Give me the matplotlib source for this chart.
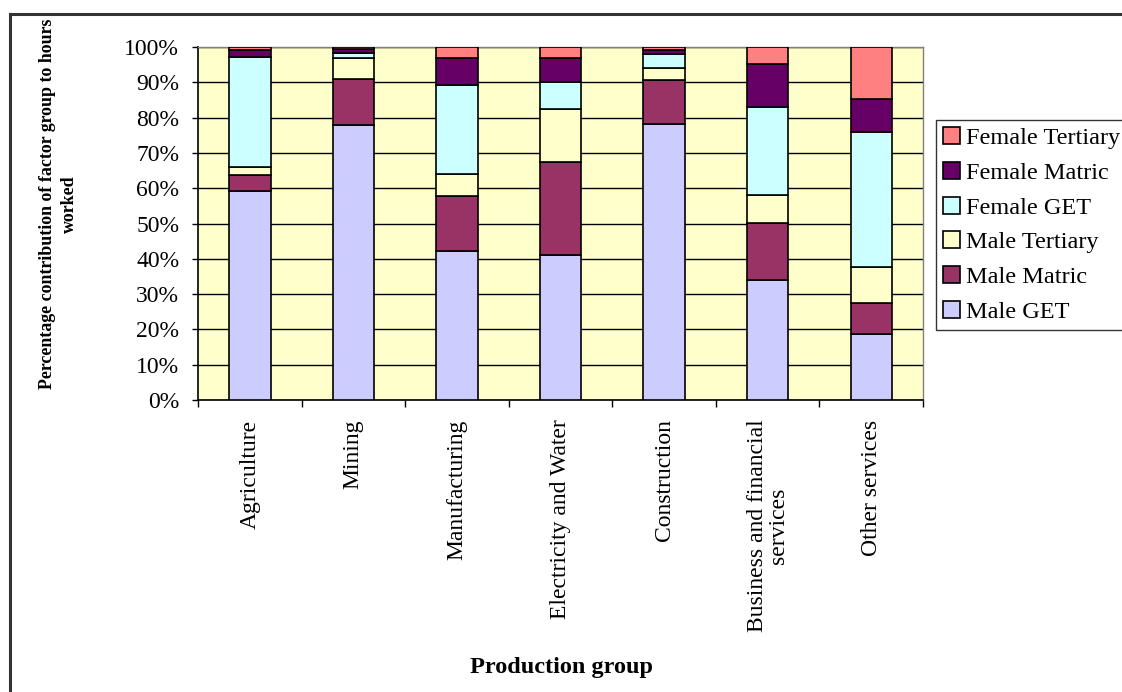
import matplotlib
matplotlib.use("Agg")
import matplotlib.pyplot as plt
from matplotlib.lines import Line2D
import numpy as np

plt.rcParams["font.family"] = ["Liberation Serif", "DejaVu Serif"]

categories = ["Agriculture", "Mining", "Manufacturing", "Electricity and Water",
              "Construction", "Business and financial\nservices", "Other services"]

# Share of hours worked (%) by factor group, stacked bottom to top
male_get = [59.3, 77.9, 42.3, 41.1, 78.2, 34.0, 18.7]
male_matric = [4.4, 13.0, 15.5, 26.2, 12.5, 16.2, 8.9]
male_tertiary = [2.3, 6.0, 6.2, 15.0, 3.3, 8.0, 10.2]
female_get = [31.2, 1.5, 25.2, 7.9, 4.1, 24.9, 38.1]
female_matric = [2.0, 1.0, 7.7, 6.6, 1.1, 12.2, 9.5]
female_tertiary = [0.8, 0.6, 3.1, 3.2, 0.8, 4.7, 14.6]

series_names = ["Male GET", "Male Matric", "Male Tertiary",
                "Female GET", "Female Matric", "Female Tertiary"]
series_values = [male_get, male_matric, male_tertiary,
                 female_get, female_matric, female_tertiary]
series_colors = ["#CCCCFF", "#993366", "#FFFFCC", "#CCFFFF", "#660066", "#FF8080"]

W, H = 1122, 692
fig = plt.figure(figsize=(W / 100, H / 100), dpi=100)
fig.patch.set_facecolor("white")

# outer chart frame (continues past the right and bottom edges)
fig.add_artist(Line2D([10 / W, 10 / W], [1 - 14 / H, -0.1], transform=fig.transFigure,
                      color="#333333", lw=2.2, clip_on=False))
fig.add_artist(Line2D([10 / W, 1.1], [1 - 14 / H, 1 - 14 / H], transform=fig.transFigure,
                      color="#333333", lw=2.2, clip_on=False))

left, top, right, bottom = 198, 47, 923, 400
ax = fig.add_axes([left / W, 1 - bottom / H, (right - left) / W, (bottom - top) / H])
ax.set_facecolor("#FFFFCC")

x = np.arange(len(categories))
base = np.zeros(len(categories))
handles = []
for name, vals, col in zip(series_names, series_values, series_colors):
    vals = np.array(vals, dtype=float)
    b = ax.bar(x, vals, bottom=base, width=0.4, color=col, edgecolor="black",
               linewidth=1.2, label=name, zorder=3)
    handles.append(b)
    base += vals

ax.set_xlim(-0.5, len(categories) - 0.5)
ax.set_ylim(0, 100)

ax.set_yticks(np.arange(0, 101, 10))
ax.set_yticklabels([f"{v}%" for v in range(0, 101, 10)], fontsize=17)
ax.yaxis.grid(True, color="black", linewidth=1.0, zorder=0)
ax.set_axisbelow(True)
ax.tick_params(axis="y", direction="out", length=4.5, width=1, pad=9, colors="black")

ax.set_xticks(x)
ax.set_xticklabels(categories, rotation=90, fontsize=17, va="top", ha="center",
                   linespacing=1.0)
ax.set_xticks(np.arange(-0.5, len(categories), 1.0), minor=True)
ax.tick_params(axis="x", which="major", length=0, pad=14)
ax.tick_params(axis="x", which="minor", direction="out", length=5, width=1)

for s in ["top", "right"]:
    ax.spines[s].set_color("#808080")
    ax.spines[s].set_linewidth(1.0)
for s in ["left", "bottom"]:
    ax.spines[s].set_color("black")
    ax.spines[s].set_linewidth(1.2)

fig.text(561 / W, 1 - 667 / H, "Production group", ha="center", va="center",
         fontsize=17.5, fontweight="bold")
fig.text(58.5 / W, 1 - 204 / H, "Percentage contribution of factor group to hours\nworked",
         ha="center", va="center", rotation=90, fontsize=12.9, fontweight="bold",
         linespacing=1.45)

leg = fig.legend(handles[::-1], series_names[::-1], loc="upper left",
                 bbox_to_anchor=(936 / W, 1 - 120 / H), fontsize=17.5, frameon=True,
                 fancybox=False, edgecolor="black", borderpad=0.3, labelspacing=0.52,
                 handlelength=0.7, handleheight=0.7, handletextpad=0.25,
                 borderaxespad=0)
leg.get_frame().set_linewidth(1.0)

fig.savefig("out.png", dpi=100, facecolor="white")
